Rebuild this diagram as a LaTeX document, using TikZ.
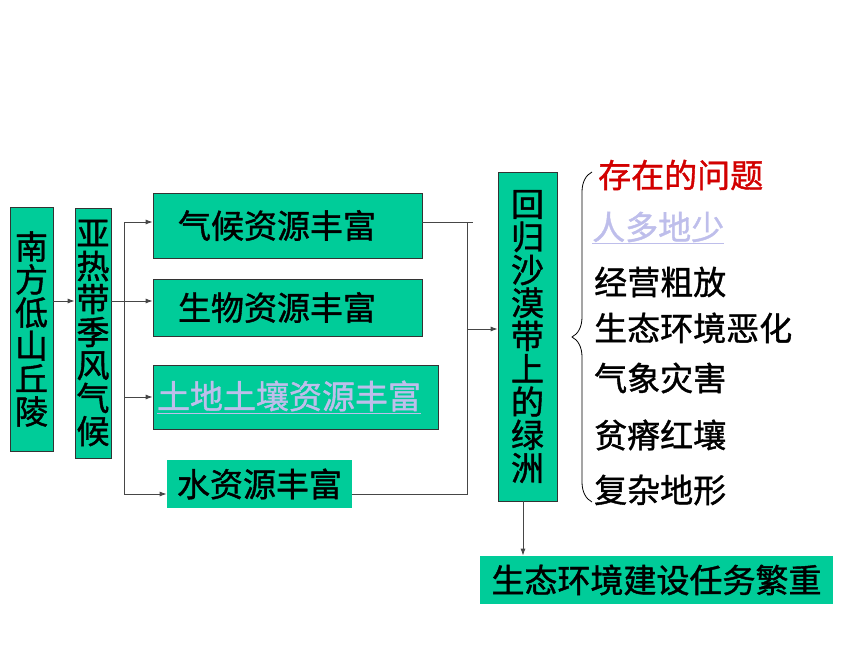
\documentclass[tikz,border=0pt]{standalone}
\usepackage{fontspec}
\newfontfamily\cjk[FakeBold=1.2]{Noto Sans CJK SC}
\usetikzlibrary{arrows.meta,decorations.pathreplacing}
\definecolor{boxgreen}{RGB}{0,204,153}
\definecolor{linklilac}{RGB}{190,190,235}
\definecolor{titlered}{RGB}{210,0,0}
\definecolor{wiregrey}{RGB}{70,70,70}
\tikzset{
  box/.style={fill=boxgreen, draw=black!80, line width=0.8pt, inner sep=0pt,
    font=\cjk\fontsize{33}{33}\selectfont, align=center},
  bare/.style={box, draw=none},
  item/.style={anchor=west, inner sep=0pt, font=\cjk\fontsize{33}{33}\selectfont},
  wire/.style={draw=wiregrey, line width=0.8pt},
  arr/.style={wire, -{Latex[length=7pt,width=5pt]}},
}
\begin{document}
\begin{tikzpicture}[x=1pt,y=-1pt]
      \useasboundingbox (0,0) rectangle (860,645);
      \draw
        (31.5,329) node[box, minimum width=43pt, minimum height=244pt] (nanfang){南\\方\\低\\山\\丘\\陵}
        (93,333) node[box, minimum width=36pt, minimum height=250pt] (yare){亚\\热\\带\\季\\风\\气\\候}
        (287.5,225.5) node[box, align=left, text width=219pt, inner xsep=25pt, minimum height=65pt] (qihou){气候资源丰富}
        (287.5,307.5) node[box, align=left, text width=219pt, inner xsep=25pt, minimum height=57pt] (shengwu){生物资源丰富}
        (295.5,397) node[box, align=left, text width=277pt, inner xsep=4pt, minimum height=64pt] (tudi){\textcolor{linklilac}{\underline{土地土壤资源丰富}}}
        (259.5,484) node[bare, minimum width=185pt, minimum height=48pt] (shui){水资源丰富}
        (527.5,336.5) node[box, minimum width=59pt, minimum height=329pt] (lvzhou){回\\归\\沙\\漠\\带\\上\\的\\绿\\洲}
        (656.5,580) node[bare, minimum width=353pt, minimum height=48pt] (jianshe){生态环境建设任务繁重};
      \draw
        (598,175) node[item, text=titlered] (wenti){存在的问题}
        (592,228) node[item, text=linklilac] (renduo){\underline{人多地少}}
        (594,282) node[item] (jingying){经营粗放}
        (594,328) node[item] (shengtai){生态环境恶化}
        (594,378) node[item] (qixiang){气象灾害}
        (594,435) node[item] (pinji){贫瘠红壤}
        (594,490) node[item] (fuza){复杂地形};
      \coordinate (split) at (124,301);
      \coordinate (busT) at (124,222);
      \coordinate (busB) at (124,494);
      \coordinate (joinT) at (467,222);
      \coordinate (joinEnd) at (473,222);
      \coordinate (joinM) at (467,329);
      \coordinate (joinB) at (467,494);
      \coordinate (drop) at (523,0);
      \coordinate (braceTop) at (592,172);
      \coordinate (braceBot) at (592,502);
      \begin{scope}[arr]
        \draw (nanfang.east |- split) to (yare.west |- split);
        \draw (yare.east |- split) to (shengwu.west |- split);
        \draw (busT) to (qihou.west |- busT);
        \draw (busB |- tudi.west) to (tudi.west);
        \draw (busB) to (shui.west |- busB);
        \draw (joinM) to (lvzhou.west |- joinM);
        \draw (drop |- lvzhou.south) to (drop |- jianshe.north);
      \end{scope}
      \draw[wire] (busT) -- (busB);
      \draw[wire] (qihou.east |- joinT) -- (joinEnd);
      \draw[wire] (joinT) -- (joinB) -- (shui.east |- joinB);
      \draw[black, line width=0.8pt, decorate, decoration={brace, amplitude=20pt}] (braceBot) -- (braceTop);
    \end{tikzpicture}
\end{document}
